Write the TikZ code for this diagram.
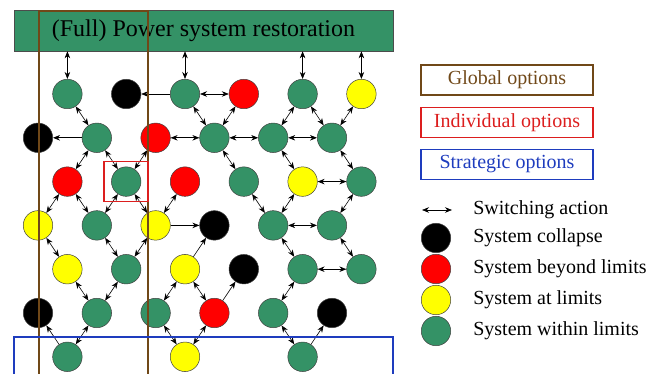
\documentclass[tikz,border=0pt]{standalone}
\usepackage{fontspec}
\setmainfont{Liberation Serif}
\usetikzlibrary{positioning}
\usetikzlibrary{arrows.meta}
\usetikzlibrary{fit}

\definecolor{stgreen}{RGB}{52,146,102}
\definecolor{stred}{RGB}{255,0,0}
\definecolor{styellow}{RGB}{255,255,0}
\definecolor{brownc}{RGB}{112,72,24}
\definecolor{redc}{RGB}{220,30,30}
\definecolor{bluec}{RGB}{30,60,190}

\begin{document}
\begin{tikzpicture}[x=1pt, y=-1pt, line width=0.6pt,
  >={Stealth[length=7pt,width=5.5pt]},
  st/.style={circle, draw=black!75, line width=0.5pt, minimum size=29.5pt, inner sep=0pt},
  stok/.style={st, fill=stgreen},
  stlim/.style={st, fill=styellow},
  stover/.style={st, fill=stred},
  stfail/.style={st, fill=black},
  opt/.style={draw, line width=1.2pt, minimum width=172pt, minimum height=30pt, inner sep=0pt, font=\rmfamily\fontsize{20}{24}\selectfont},
  lbl/.style={inner sep=0pt, font=\rmfamily\fontsize{20}{24}\selectfont}]

\useasboundingbox (0,0) rectangle (662,374);

\node (title) [draw=black!70, fill=stgreen, minimum width=379pt, minimum height=41pt, inner sep=0pt, font=\rmfamily\fontsize{24}{28}\selectfont] at (203.5,30.5) {(Full) Power system restoration};

\begin{scope}[shift={(38pt,-94pt)}, x=29.4pt, y=-43.8pt]
% row 1
\node (r1c1) [stok] at (1,0) {};
\node (r1c3) [stfail] at (3,0) {};
\node (r1c5) [stok] at (5,0) {};
\node (r1c7) [stover] at (7,0) {};
\node (r1c9) [stok] at (9,0) {};
\node (r1c11) [stlim] at (11,0) {};
% row 2
\node (r2c0) [stfail] at (0,1) {};
\node (r2c2) [stok] at (2,1) {};
\node (r2c4) [stover] at (4,1) {};
\node (r2c6) [stok] at (6,1) {};
\node (r2c8) [stok] at (8,1) {};
\node (r2c10) [stok] at (10,1) {};
% row 3
\node (r3c1) [stover] at (1,2) {};
\node (r3c3) [stok] at (3,2) {};
\node (r3c5) [stover] at (5,2) {};
\node (r3c7) [stok] at (7,2) {};
\node (r3c9) [stlim] at (9,2) {};
\node (r3c11) [stok] at (11,2) {};
% row 4
\node (r4c0) [stlim] at (0,3) {};
\node (r4c2) [stok] at (2,3) {};
\node (r4c4) [stlim] at (4,3) {};
\node (r4c6) [stfail] at (6,3) {};
\node (r4c8) [stok] at (8,3) {};
\node (r4c10) [stok] at (10,3) {};
% row 5
\node (r5c1) [stlim] at (1,4) {};
\node (r5c3) [stok] at (3,4) {};
\node (r5c5) [stlim] at (5,4) {};
\node (r5c7) [stfail] at (7,4) {};
\node (r5c9) [stok] at (9,4) {};
\node (r5c11) [stok] at (11,4) {};
% row 6
\node (r6c0) [stfail] at (0,5) {};
\node (r6c2) [stok] at (2,5) {};
\node (r6c4) [stok] at (4,5) {};
\node (r6c6) [stover] at (6,5) {};
\node (r6c8) [stok] at (8,5) {};
\node (r6c10) [stfail] at (10,5) {};
% row 7
\node (r7c1) [stok] at (1,6) {};
\node (r7c5) [stlim] at (5,6) {};
\node (r7c9) [stok] at (9,6) {};
\end{scope}

% switching to the full restoration
\draw[<->] (r1c1) -- (r1c1 |- title.south);
\draw[<->] (r1c5) -- (r1c5 |- title.south);
\draw[<->] (r1c9) -- (r1c9 |- title.south);
\draw[<->] (r1c11) -- (r1c11 |- title.south);

% into collapse
\draw[->] (r1c5) -- (r1c3);
\draw[->] (r2c2) -- (r2c0);
\draw[->] (r4c4) -- (r4c6);
\draw[->] (r5c5) -- (r4c6);
\draw[->] (r6c6) -- (r5c7);
\draw[->] (r7c1) -- (r6c0);
\draw[->] (r7c9) -- (r6c10);

\draw[<->] (r1c1) -- (r2c2);
\draw[<->] (r1c5) -- (r1c7);
\draw[<->] (r1c5) -- (r2c6);
\draw[<->] (r1c7) -- (r2c6);
\draw[<->] (r1c9) -- (r2c8);
\draw[<->] (r1c9) -- (r2c10);
\draw[<->] (r1c11) -- (r2c10);
\draw[<->] (r2c4) -- (r2c6);
\draw[<->] (r2c6) -- (r2c8);
\draw[<->] (r2c8) -- (r2c10);
\draw[<->] (r2c2) -- (r3c1);
\draw[<->] (r2c2) -- (r3c3);
\draw[<->] (r2c4) -- (r3c3);
\draw[<->] (r2c6) -- (r3c7);
\draw[<->] (r2c8) -- (r3c9);
\draw[<->] (r2c10) -- (r3c11);
\draw[<->] (r3c9) -- (r3c11);
\draw[<->] (r3c1) -- (r4c0);
\draw[<->] (r3c1) -- (r4c2);
\draw[<->] (r3c3) -- (r4c2);
\draw[<->] (r3c3) -- (r4c4);
\draw[<->] (r3c5) -- (r4c4);
\draw[<->] (r3c7) -- (r4c8);
\draw[<->] (r3c9) -- (r4c8);
\draw[<->] (r3c11) -- (r4c10);
\draw[<->] (r4c8) -- (r4c10);
\draw[<->] (r4c0) -- (r5c1);
\draw[<->] (r4c2) -- (r5c3);
\draw[<->] (r4c4) -- (r5c3);
\draw[<->] (r4c8) -- (r5c9);
\draw[<->] (r4c10) -- (r5c11);
\draw[<->] (r5c9) -- (r5c11);
\draw[<->] (r5c1) -- (r6c2);
\draw[<->] (r5c3) -- (r6c2);
\draw[<->] (r5c5) -- (r6c4);
\draw[<->] (r5c5) -- (r6c6);
\draw[<->] (r5c9) -- (r6c8);
\draw[<->] (r6c2) -- (r7c1);
\draw[<->] (r6c4) -- (r7c5);
\draw[<->] (r6c6) -- (r7c5);
\draw[<->] (r6c8) -- (r7c9);

% option frames
\draw[brownc, line width=1.5pt] (39,380) -- (39,11) -- (148,11) -- (148,380);
\node (indiv) [draw=redc, line width=1.5pt, inner xsep=7pt, inner ysep=5pt, fit=(r3c3)] {};
\draw[bluec, line width=1.5pt] (14,380) -- (14,337) -- (393,337) -- (393,380);

% legend
\node (gopt) [opt, draw=brownc, text=brownc] at (507,80) {Global options};
\node (iopt) [opt, draw=redc, text=redc, below=11pt of gopt] {Individual options};
\node (sopt) [opt, draw=bluec, text=bluec, below=11pt of iopt] {Strategic options};

\coordinate (la) at (422,210);
\coordinate (lb) at (452,210);
\draw[<->] (la) -- (lb);
\node (lsw) [lbl, right=21pt of lb] {Switching action};

\node (l1) [stfail] at (436,238) {};
\node (l2) [stover, below=1pt of l1] {};
\node (l3) [stlim, below=1pt of l2] {};
\node (l4) [stok, below=1pt of l3] {};
\node (t1) [lbl, right=22pt of l1] {System collapse};
\node (t2) [lbl, right=22pt of l2] {System beyond limits};
\node (t3) [lbl, right=22pt of l3] {System at limits};
\node (t4) [lbl, right=22pt of l4] {System within limits};

\end{tikzpicture}
\end{document}
